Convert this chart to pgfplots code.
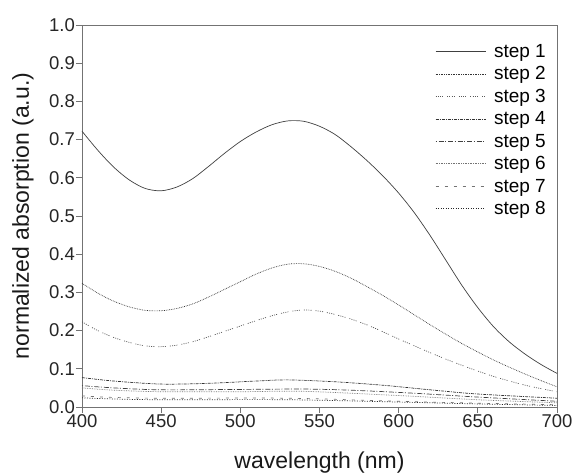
\documentclass[border=0pt]{standalone}
\usepackage{fontspec}
\setmainfont{Liberation Sans}
\usepackage{pgfplots}
\pgfplotsset{compat=1.18}
\begin{document}
\begin{tikzpicture}
\useasboundingbox (-82pt,-68pt) rectangle (493pt,407pt);
\begin{axis}[
  at={(0pt,0pt)}, anchor=south west,
  scale only axis, width=475pt, height=382pt,
  xmin=400, xmax=700, ymin=0, ymax=1,
  xtick={400,450,...,700},
  ytick={0,0.1,0.2,0.3,0.4,0.5,0.6,0.7,0.8,0.9,1.0},
  yticklabel style={inner sep=1pt, /pgf/number format/.cd, fixed, fixed zerofill, precision=1},
  xticklabel style={inner sep=1pt},
  /pgf/number format/assume math mode=true,
  tick align=outside, tick pos=left,
  major tick length=6pt,
  axis line style={black!55, line width=0.9pt},
  every tick/.style={black!55, line width=0.9pt},
  tick label style={font=\fontsize{18.5}{20}\selectfont, text=black!85},
  label style={font=\fontsize{23}{25}\selectfont, text=black!90},
  xlabel={wavelength (nm)},
  ylabel={normalized absorption (a.u.)},
  xlabel style={at={(axis description cs:0.5,-0.1466)}, anchor=center},
  ylabel style={at={(axis description cs:-0.1242,0.5)}, anchor=center},
  legend style={draw=none, fill=none, at={(1,1)}, anchor=north east,
    xshift=-6pt, yshift=-15pt,
    font=\fontsize{19}{22.5}\selectfont, row sep=3.8pt,
    /tikz/every odd column/.append style={column sep=6pt}},
  legend cell align=left,
  legend image code/.code={\draw[#1] (0pt,0pt) -- (50pt,0pt);},
  every axis plot/.append style={line width=0.7pt, smooth},
]
\addplot[black!75, solid] coordinates {
(400,0.722)(410,0.672)(420,0.628)(430,0.594)(440,0.572)(450,0.566)(460,0.576)(470,0.598)(480,0.63)(490,0.664)(500,0.695)(510,0.72)(520,0.739)(530,0.749)(540,0.748)(550,0.735)(560,0.713)(570,0.681)(580,0.645)(590,0.605)(600,0.56)(610,0.508)(620,0.448)(630,0.383)(640,0.318)(650,0.26)(660,0.21)(670,0.17)(680,0.138)(690,0.111)(700,0.088)};
\addlegendentry{step 1}
\addplot[black!80, densely dotted] coordinates {
(400,0.324)(410,0.298)(420,0.277)(430,0.262)(440,0.253)(450,0.252)(460,0.258)(470,0.27)(480,0.288)(490,0.308)(500,0.328)(510,0.348)(520,0.364)(530,0.374)(540,0.375)(550,0.368)(560,0.355)(570,0.337)(580,0.315)(590,0.292)(600,0.267)(610,0.241)(620,0.215)(630,0.19)(640,0.166)(650,0.144)(660,0.123)(670,0.104)(680,0.086)(690,0.069)(700,0.053)};
\addlegendentry{step 2}
\addplot[black!65, dash pattern=on 1pt off 1.2pt on 1pt off 1.2pt on 1pt off 1.2pt on 1pt off 4pt] coordinates {
(400,0.223)(410,0.2)(420,0.182)(430,0.169)(440,0.16)(450,0.158)(460,0.162)(470,0.171)(480,0.184)(490,0.198)(500,0.212)(510,0.226)(520,0.239)(530,0.249)(540,0.254)(550,0.251)(560,0.242)(570,0.23)(580,0.215)(590,0.197)(600,0.178)(610,0.16)(620,0.142)(630,0.125)(640,0.109)(650,0.094)(660,0.08)(670,0.068)(680,0.057)(690,0.048)(700,0.04)};
\addlegendentry{step 3}
\addplot[black!80, dash pattern=on 3pt off 1pt on 1pt off 1pt] coordinates {
(400,0.077)(420,0.068)(450,0.06)(480,0.062)(510,0.068)(530,0.071)(560,0.066)(590,0.057)(620,0.045)(650,0.034)(700,0.023)};
\addlegendentry{step 4}
\addplot[black!75, dash pattern=on 1pt off 2pt on 5pt off 1.5pt] coordinates {
(400,0.056)(420,0.05)(450,0.045)(500,0.046)(540,0.047)(570,0.044)(610,0.036)(650,0.026)(700,0.015)};
\addlegendentry{step 5}
\addplot[black!55, densely dotted] coordinates {
(400,0.05)(420,0.044)(450,0.04)(500,0.04)(540,0.041)(600,0.03)(650,0.019)(700,0.011)};
\addlegendentry{step 6}
\addplot[black!55, dash pattern=on 3pt off 6pt] coordinates {
(400,0.029)(420,0.025)(450,0.023)(530,0.023)(600,0.015)(650,0.01)(700,0.006)};
\addlegendentry{step 7}
\addplot[black!85, dash pattern=on 1pt off 1.5pt] coordinates {
(400,0.024)(420,0.021)(450,0.019)(530,0.019)(600,0.013)(650,0.008)(700,0.004)};
\addlegendentry{step 8}
\end{axis}
\end{tikzpicture}
\end{document}
